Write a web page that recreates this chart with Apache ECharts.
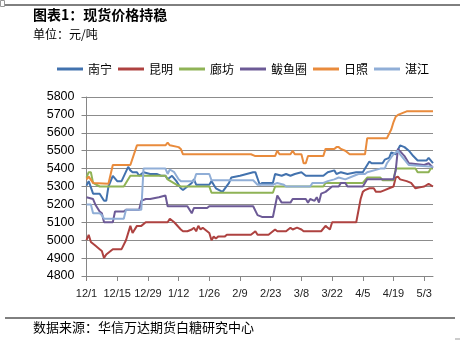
<!DOCTYPE html>
<html>
<head>
<meta charset="utf-8">
<script src="https://cdn.jsdelivr.net/npm/echarts@6/dist/echarts.min.js"></script>
<style>
  html, body { margin: 0; padding: 0; background: #fff; }
  #chart { width: 460px; height: 341px; }
</style>
</head>
<body>
<div id="chart"></div>
<script>
// 现货价格 (元/吨), 2015-12-01 至 2016-05-07
const tickLabels = ['12/1', '12/15', '12/29', '1/12', '1/26', '2/9', '2/23', '3/8', '3/22', '4/5', '4/19', '5/3'];
const yTicks = [4800, 4900, 5000, 5100, 5200, 5300, 5400, 5500, 5600, 5700, 5800];

const nanning = [['12/1',5305],['12/2',5330],['12/4',5260],['12/7',5260],['12/8',5240],['12/9',5220],['12/10',5220],['12/11',5300],['12/13',5360],['12/15',5330],['12/17',5330],['12/20',5410],['12/21',5390],['12/22',5380],['12/24',5380],['12/25',5360],['12/27',5380],['12/30',5370],['1/2',5370],['1/4',5360],['1/6',5360],['1/7',5340],['1/9',5360],['1/11',5330],['1/13',5290],['1/14',5280],['1/15',5290],['1/17',5310],['1/18',5320],['1/19',5340],['1/20',5310],['1/26',5310],['1/27',5330],['1/28',5310],['1/29',5290],['2/1',5270],['2/4',5320],['2/5',5350],['2/9',5360],['2/12',5370],['2/15',5380],['2/16',5380],['2/18',5310],['2/19',5320],['2/24',5320],['2/25',5370],['2/28',5360],['3/1',5370],['3/3',5360],['3/5',5370],['3/8',5380],['3/10',5360],['3/18',5360],['3/20',5380],['3/23',5390],['3/24',5370],['3/26',5380],['3/29',5370],['4/2',5380],['4/5',5380],['4/6',5400],['4/8',5440],['4/9',5430],['4/14',5430],['4/15',5450],['4/17',5460],['4/18',5490],['4/20',5480],['4/22',5530],['4/24',5520],['4/26',5500],['4/28',5470],['4/30',5445],['5/4',5445],['5/5',5460],['5/7',5430]];

const kunming = [['12/1',5000],['12/2',5030],['12/3',4990],['12/5',4970],['12/7',4950],['12/8',4940],['12/9',4900],['12/10',4920],['12/11',4930],['12/13',4950],['12/17',4950],['12/19',5000],['12/21',5080],['12/22',5040],['12/24',5080],['12/26',5080],['12/28',5100],['1/7',5100],['1/8',5120],['1/10',5100],['1/13',5060],['1/14',5050],['1/16',5050],['1/18',5060],['1/19',5070],['1/20',5050],['1/21',5080],['1/22',5060],['1/23',5070],['1/25',5050],['1/26',5040],['1/27',5000],['1/28',5020],['1/29',5010],['1/30',5020],['2/2',5020],['2/3',5030],['2/14',5030],['2/16',5050],['2/17',5030],['2/22',5030],['2/23',5040],['2/25',5060],['2/26',5050],['3/1',5050],['3/3',5070],['3/4',5060],['3/6',5070],['3/8',5060],['3/9',5050],['3/17',5050],['3/19',5080],['3/20',5070],['3/21',5060],['3/22',5100],['4/2',5100],['4/4',5230],['4/5',5270],['4/6',5280],['4/8',5290],['4/10',5290],['4/11',5270],['4/13',5270],['4/15',5280],['4/17',5290],['4/19',5300],['4/20',5350],['4/21',5355],['4/22',5340],['4/25',5330],['4/27',5320],['4/29',5290],['5/1',5295],['5/3',5300],['5/5',5315],['5/7',5300]];

const langfang = [['12/1',5350],['12/2',5380],['12/3',5380],['12/4',5320],['12/7',5300],['12/18',5300],['12/21',5360],['1/6',5360],['1/7',5340],['1/11',5310],['1/13',5300],['1/26',5300],['1/27',5265],['2/24',5265],['2/25',5300],['3/18',5300],['3/19',5320],['4/5',5320],['4/7',5350],['4/13',5350],['4/14',5335],['4/19',5335],['4/20',5400],['4/29',5400],['4/30',5380],['5/5',5380],['5/6',5400],['5/7',5400]];

const bayuquan = [['12/1',5240],['12/4',5230],['12/5',5200],['12/7',5160],['12/8',5150],['12/9',5100],['12/13',5100],['12/14',5160],['12/18',5160],['12/19',5170],['12/25',5170],['12/26',5220],['12/28',5230],['12/30',5230],['1/3',5240],['1/6',5250],['1/7',5190],['1/16',5190],['1/18',5150],['1/19',5180],['1/25',5180],['1/26',5190],['2/15',5190],['2/17',5140],['2/19',5130],['2/24',5130],['2/26',5250],['2/28',5210],['3/3',5210],['3/4',5230],['3/10',5230],['3/11',5210],['3/12',5230],['3/14',5220],['3/15',5240],['3/16',5210],['3/17',5260],['3/19',5270],['3/22',5300],['3/25',5300],['3/26',5320],['3/28',5320],['3/29',5300],['4/5',5300],['4/7',5340],['4/19',5340],['4/20',5390],['4/21',5510],['4/24',5470],['4/26',5430],['5/3',5420],['5/5',5430],['5/7',5405]];

const rizhao = [['12/1',5340],['12/2',5355],['12/4',5320],['12/11',5315],['12/13',5420],['12/21',5420],['12/24',5530],['1/6',5530],['1/7',5545],['1/8',5530],['1/12',5520],['1/13',5510],['1/14',5480],['2/14',5480],['2/16',5470],['2/25',5470],['2/26',5500],['2/27',5480],['3/3',5480],['3/4',5500],['3/5',5480],['3/8',5480],['3/9',5430],['3/10',5430],['3/11',5470],['3/18',5470],['3/19',5510],['3/23',5510],['3/24',5520],['3/25',5520],['3/26',5510],['3/28',5500],['3/30',5480],['4/6',5480],['4/7',5570],['4/16',5570],['4/18',5620],['4/19',5660],['4/20',5690],['4/21',5700],['4/23',5710],['4/25',5720],['5/7',5720]];

const zhanjiang = [['12/1',5200],['12/3',5200],['12/4',5150],['12/7',5150],['12/8',5140],['12/9',5120],['12/18',5120],['12/19',5170],['12/26',5170],['12/27',5400],['1/6',5400],['1/7',5370],['1/8',5395],['1/10',5380],['1/12',5340],['1/13',5330],['1/19',5330],['1/20',5370],['1/26',5370],['1/27',5335],['2/15',5335],['2/17',5310],['2/24',5310],['2/26',5320],['2/29',5310],['3/1',5300],['3/12',5300],['3/13',5320],['3/18',5320],['3/20',5330],['3/23',5340],['3/25',5350],['3/28',5340],['4/1',5360],['4/3',5370],['4/6',5370],['4/7',5380],['4/13',5400],['4/15',5400],['4/16',5430],['4/19',5480],['4/21',5500],['4/22',5480],['4/26',5420],['5/7',5410]];

// 日期 'M/D' 换算为距 2015-12-01 的天数
const startUTC = Date.UTC(2015, 11, 1);
function dayOf(md) {
  const [m, d] = md.split('/').map(Number);
  const y = m === 12 ? 2015 : 2016;
  return (Date.UTC(y, m - 1, d) - startUTC) / 86400000;
}
function mdOf(day) {
  const t = new Date(startUTC + day * 86400000);
  return (t.getUTCMonth() + 1) + '/' + t.getUTCDate();
}
const toPoints = arr => arr.map(([md, v]) => [dayOf(md), v]);

const seriesDefs = [
  { name: '南宁', data: nanning, color: '#4272AE' },
  { name: '昆明', data: kunming, color: '#AE4240' },
  { name: '廊坊', data: langfang, color: '#8FB356' },
  { name: '鲅鱼圈', data: bayuquan, color: '#6C5A96' },
  { name: '日照', data: rizhao, color: '#E98B3C' },
  { name: '湛江', data: zhanjiang, color: '#90AED7' }
];

const tickDays = tickLabels.map(dayOf);
const cjk = '"Noto Sans CJK SC", sans-serif';

const chart = echarts.init(document.getElementById('chart'), null, { renderer: 'canvas' });
chart.setOption({
  animation: false,
  backgroundColor: '#ffffff',
  graphic: [
    { type: 'line', shape: { x1: 5, y1: 5, x2: 460, y2: 5 }, style: { stroke: '#000', lineWidth: 1 } },
    { type: 'line', shape: { x1: 5, y1: 318, x2: 455, y2: 318 }, style: { stroke: '#000', lineWidth: 1 } },
    { type: 'rect', shape: { x: 0.5, y: 0.5, width: 4, height: 6 }, style: { fill: 'none', stroke: '#999', lineWidth: 1 } },
    { type: 'line', shape: { x1: 455, y1: 339, x2: 460, y2: 339 }, style: { stroke: '#999', lineWidth: 1 } },
    { type: 'text', left: 33, top: 8, style: { text: '图表1：现货价格持稳', font: 'bold 14px ' + cjk, fill: '#000' } },
    { type: 'text', left: 33, top: 28, style: { text: '单位：元/吨', font: '12px ' + cjk, fill: '#000' } },
    { type: 'text', left: 33, top: 321, style: { text: '数据来源：华信万达期货白糖研究中心', font: '13px ' + cjk, fill: '#000' } }
  ],
  legend: {
    left: 57,
    top: 63,
    padding: 0,
    itemWidth: 26,
    itemHeight: 3,
    itemGap: 6,
    icon: 'rect',
    textStyle: { fontFamily: cjk, fontSize: 12, color: '#000' },
    data: seriesDefs.map(s => s.name)
  },
  grid: { left: 86.5, right: 27, top: 97, bottom: 65, containLabel: false },
  xAxis: {
    type: 'value',
    min: 0,
    max: 158,
    interval: 14,
    axisLine: { show: true, lineStyle: { color: '#868686', width: 1 } },
    axisTick: { show: true, length: 5, lineStyle: { color: '#868686' }, customValues: tickDays },
    axisLabel: {
      customValues: tickDays,
      margin: 12,
      fontSize: 11,
      fontFamily: '"Liberation Sans", Arial, sans-serif',
      color: '#222',
      formatter: v => mdOf(v)
    },
    splitLine: { show: false }
  },
  yAxis: {
    type: 'value',
    min: yTicks[0],
    max: yTicks[yTicks.length - 1],
    interval: 100,
    axisLine: { show: true, lineStyle: { color: '#868686', width: 1 } },
    axisTick: { show: true, inside: false, length: 5, lineStyle: { color: '#868686' } },
    axisLabel: {
      margin: 12,
      fontSize: 12.5,
      fontFamily: '"Liberation Sans", Arial, sans-serif',
      color: '#000',
      formatter: v => String(v)
    },
    splitLine: { show: true, lineStyle: { color: '#8C8C8C', width: 1 } }
  },
  series: seriesDefs.map(s => ({
    name: s.name,
    type: 'line',
    data: toPoints(s.data),
    symbol: 'none',
    color: s.color,
    lineStyle: { width: 2, color: s.color },
    z: 3
  }))
});
</script>
</body>
</html>
